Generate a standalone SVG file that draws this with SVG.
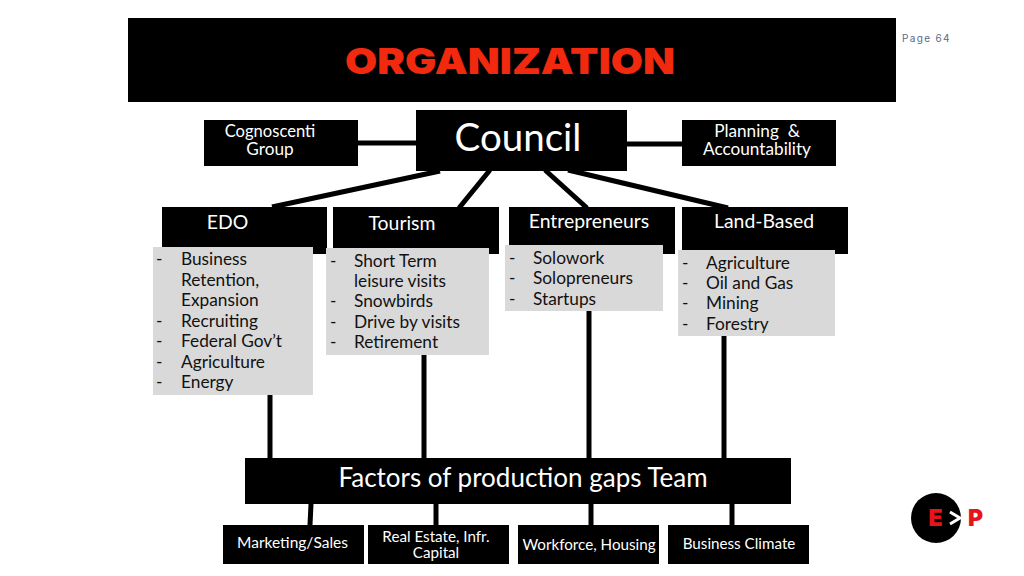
<svg xmlns="http://www.w3.org/2000/svg" width="1024" height="576" viewBox="0 0 1024 576">
<style>
text{font-family:Lato,"Liberation Sans",sans-serif;fill:#fff}
.k{fill:#000}
.g{fill:#d9d9d9}
.c line{stroke:#000;stroke-width:5}
.m{font-size:17.2px;text-anchor:middle}
.h{font-size:19.4px;text-anchor:middle}
.s{font-size:15.2px;text-anchor:middle}
.d{font-size:17.3px;fill:#111}
.l{font-family:Inter,"Liberation Sans",sans-serif;font-weight:900;font-size:23px;fill:#e8141c}
</style>
<rect width="1024" height="576" fill="#fff"/>
<g id="title"><rect class="k" x="128" y="18" width="768" height="84"/>
<text x="510" y="74" text-anchor="middle" style="font-family:Inter,'Liberation Sans',sans-serif;font-weight:900;font-size:36px;fill:#f0290f" textLength="330" lengthAdjust="spacingAndGlyphs">ORGANIZATION</text></g>
<text id="page" x="902" y="42" style="font-family:Inter,sans-serif;font-size:10px;letter-spacing:1.35px;fill:#5a6b85">Page 64</text>
<g class="c" id="connectors">
<line x1="358" y1="143" x2="417" y2="143"/>
<line x1="627" y1="144" x2="682" y2="144"/>
<line x1="440" y1="171" x2="272" y2="207"/>
<line x1="490" y1="170" x2="459" y2="208"/>
<line x1="545" y1="170" x2="587" y2="208"/>
<line x1="568" y1="170" x2="728" y2="208"/>
<line x1="270" y1="395" x2="270" y2="458"/>
<line x1="424" y1="355" x2="424" y2="458"/>
<line x1="589" y1="311" x2="589" y2="458"/>
<line x1="724" y1="336" x2="724" y2="458"/>
<line x1="311" y1="504" x2="310" y2="525"/>
<line x1="436" y1="504" x2="436" y2="525"/>
<line x1="591" y1="504" x2="591" y2="525"/>
<line x1="732" y1="504" x2="732" y2="525"/>
</g>
<g id="council"><rect class="k" x="416" y="110" width="211" height="61"/><text x="518" y="151" text-anchor="middle" font-size="38.5">Council</text></g>
<g id="cognoscenti"><rect class="k" x="204" y="120" width="154" height="46"/><text class="m" x="270" y="137" style="font-size:16.6px">Cognoscenti</text><text class="m" x="270" y="155">Group</text></g>
<g id="planning"><rect class="k" x="682" y="120" width="154" height="46"/><text class="m" x="757" y="137" xml:space="preserve">Planning  &amp;</text><text class="m" x="757" y="155">Accountability</text></g>
<g id="edo"><rect class="k" x="162" y="207" width="165" height="47"/><text class="h" x="227.5" y="229">EDO</text>
<rect class="g" x="153" y="247" width="160" height="148"/>
<text class="d"><tspan x="156" y="265">-</tspan><tspan x="181" y="265">Business</tspan><tspan x="181" y="286">Retention,</tspan><tspan x="181" y="306">Expansion</tspan><tspan x="156" y="327">-</tspan><tspan x="181" y="327">Recruiting</tspan><tspan x="156" y="347">-</tspan><tspan x="181" y="347">Federal Gov’t</tspan><tspan x="156" y="368">-</tspan><tspan x="181" y="368">Agriculture</tspan><tspan x="156" y="388">-</tspan><tspan x="181" y="388">Energy</tspan></text></g>
<g id="tourism"><rect class="k" x="333" y="207" width="166" height="47"/><text class="h" x="402" y="230">Tourism</text>
<rect class="g" x="326" y="248" width="163" height="107"/>
<text class="d"><tspan x="330" y="267">-</tspan><tspan x="354" y="267">Short Term</tspan><tspan x="354" y="287">leisure visits</tspan><tspan x="330" y="307">-</tspan><tspan x="354" y="307">Snowbirds</tspan><tspan x="330" y="328">-</tspan><tspan x="354" y="328">Drive by visits</tspan><tspan x="330" y="348">-</tspan><tspan x="354" y="348">Retirement</tspan></text></g>
<g id="entrepreneurs"><rect class="k" x="509" y="207" width="166" height="47"/><text class="h" x="589" y="228">Entrepreneurs</text>
<rect class="g" x="505" y="245" width="158" height="66"/>
<text class="d"><tspan x="509" y="264">-</tspan><tspan x="533" y="264">Solowork</tspan><tspan x="509" y="284">-</tspan><tspan x="533" y="284">Solopreneurs</tspan><tspan x="509" y="305">-</tspan><tspan x="533" y="305">Startups</tspan></text></g>
<g id="land"><rect class="k" x="682" y="207" width="166" height="47"/><text class="h" x="764" y="228">Land-Based</text>
<rect class="g" x="678" y="250" width="157" height="86"/>
<text class="d"><tspan x="682" y="269">-</tspan><tspan x="706" y="269">Agriculture</tspan><tspan x="682" y="289">-</tspan><tspan x="706" y="289">Oil and Gas</tspan><tspan x="682" y="309">-</tspan><tspan x="706" y="309">Mining</tspan><tspan x="682" y="330">-</tspan><tspan x="706" y="330">Forestry</tspan></text></g>
<g id="factors"><rect class="k" x="245" y="458" width="546" height="46"/><text x="523" y="487" text-anchor="middle" font-size="26">Factors of production gaps Team</text></g>
<g id="marketing"><rect class="k" x="223" y="525" width="141" height="39"/><text class="s" x="292.500" y="548" style="font-size:15.5px">Marketing/Sales</text></g>
<g id="realestate"><rect class="k" x="368" y="525" width="141" height="39"/><text class="s" x="436" y="542">Real Estate, Infr.</text><text class="s" x="436" y="558">Capital</text></g>
<g id="workforce"><rect class="k" x="518" y="525" width="141" height="39"/><text class="s" x="589" y="550">Workforce, Housing</text></g>
<g id="climate"><rect class="k" x="668" y="525" width="141" height="39"/><text class="s" x="739" y="549">Business Climate</text></g>
<g id="logo"><circle class="k" cx="936" cy="518" r="25"/>
<text class="l" x="928.500" y="526">E</text>
<path d="M950 512 L960 518 L950 524" fill="none" stroke="#fff" stroke-width="3"/>
<text class="l" x="968" y="526">P</text></g>
</svg>
